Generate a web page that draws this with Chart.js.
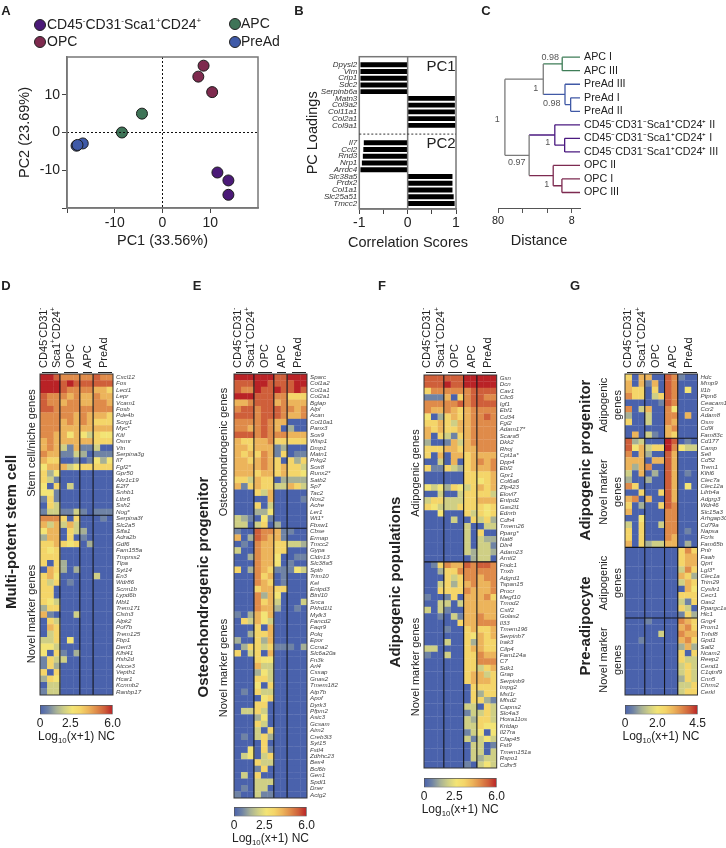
<!DOCTYPE html>
<html>
<head>
<meta charset="utf-8">
<title>Population PCA and heatmaps</title>
<script src="https://cdn.jsdelivr.net/npm/chart.js@4"></script>
<style>
  body { margin: 0; background: #fff; }
  #page { position: relative; width: 726px; height: 848px; overflow: hidden; font-family: "Liberation Sans", Arial, sans-serif; color: #222; filter: blur(0.35px); }
  #page canvas { position: absolute; }
  .txt { position: absolute; white-space: nowrap; line-height: 1; }
  .txt sup { font-size: 58%; line-height: 0; }
  .txt sub { font-size: 65%; line-height: 0; }
  .dot { position: absolute; width: 10px; height: 10px; border-radius: 50%; border: 1px solid #222; }
  .rule { position: absolute; height: 1px; background: #222; }
</style>
</head>
<body>
<div id="page"></div>
<script>
// Panel A - PCA
const pcaPurple = [[11.5, -10.6], [13.8, -12.7], [13.8, -16.5]];
const pcaOpc = [[8.6, 17.7], [7.5, 14.8], [10.4, 10.7]];
const pcaApc = [[-4.3, 5.0], [-8.5, 0]];
const pcaPreAd = [[-18, -3.5], [-16.7, -2.9], [-17.8, -3.3]];

// Panel B - loadings
const pc1Genes = ['Dpysl2', 'Vim', 'Crip1', 'Sdc2', 'Serpinb6a', 'Matn3', 'Col9a2', 'Col11a1', 'Col2a1', 'Col9a1'];
const pc1Scores = [-0.97, -0.97, -0.97, -0.97, -0.97, 0.97, 0.97, 0.97, 0.98, 0.985];
const pc2Genes = ['Il7', 'Ccl2', 'Rnd3', 'Nrp1', 'Arrdc4', 'Slc38a5', 'Prdx2', 'Col1a1', 'Slc25a51', 'Tmcc2'];
const pc2Scores = [-0.90, -0.91, -0.92, -0.94, -0.97, 0.92, 0.92, 0.92, 0.945, 0.965];

// Panel C - dendrogram, node = [distance, colour, children], a number is a leaf index
const leafNames = ['APC I', 'APC III', 'PreAd III', 'PreAd I', 'PreAd II',
  'CD45⁻CD31⁻Sca1⁺CD24⁺ II', 'CD45⁻CD31⁻Sca1⁺CD24⁺ I', 'CD45⁻CD31⁻Sca1⁺CD24⁺ III',
  'OPC II', 'OPC I', 'OPC III'];
const leafDistance = 6.2;
const distanceTicks = [80, 37.1, 17.2, 8];
const GREY = '#7a7a7a', GREEN = '#3e7d57', BLUE = '#4059a6', PURPLE = '#4b1a80', WINE = '#7d2a50';
const dendroTree = [64.5, GREY, [
  [19.5, GREY, [[10.8, GREEN, [0, 1]], [9.9, BLUE, [2, [8.3, BLUE, [3, 4]]]]]],
  [30.3, GREY, [[13.6, PURPLE, [5, [10, PURPLE, [6, 7]]]], [14.3, WINE, [8, [10.9, WINE, [9, 10]]]]]]
]];

// Heatmaps: one digit per sample, 0-9 along the colour bar (3 CD45, 3 OPC, 2 APC, 3 PreAd)
const colSplits = [3, 6, 8];
const genesD = ['Cxcl12', 'Fos', 'Lect1', 'Lepr', 'Vcam1', 'Fosb', 'Pde4b', 'Scrg1', 'Myc*', 'Kitl', 'Osmr', 'Vtn', 'Serpina3g', 'Il7', 'Fgf2*', 'Gpr50', 'Akr1c19', 'E2f7', 'Snhb1', 'Ltbr6', 'Ssh2', 'Nog*',
  'Serpina3f', 'Slc2a5', 'Stfa1', 'Adra2b', 'Gdf6', 'Fam155a', 'Tmprss2', 'Tlpa', 'Syt14', 'En3', 'Wdr86', 'Scnn1b', 'Lypd6b', 'Mbl1', 'Trem171', 'Clstn3', 'Alpk2', 'Pof7b', 'Trem125', 'Fbp1', 'Dert3', 'Klhl41', 'Hsh2d', 'Atcce3', 'Vepth1', 'Hcar1', 'Kcnmb2', 'Ranbp17'];
const levelsD = ['99877777877', '99989888888', '99987777665', '87776766766', '87767766776', '88777777777', '77777676665', '77767676555', '77766666666', '77664643544', '67666666555', '67631611300', '76611320111', '65500101424', '46663455555', '52400000000', '53100000000', '40503000000', '44100000000', '15100000000', '05300000000', '13311310111',
  '77750500010', '63636300000', '46605320000', '26605010000', '55654502000', '54500000000', '55500000000', '50520000000', '06520200000', '56400000300', '53501000000', '55000000000', '55000000000', '54300000000', '25500000000', '61000300000', '05300000000', '06500000000', '03500000000', '33504000000', '44300000000', '40510200000', '15330000000', '15200000000', '50500000000', '25400000000', '03300000000', '13300000000'];
const genesE = ['Sparc', 'Col1a2', 'Col1a1', 'Col2a1', 'Bglap', 'Alpl', 'Acan', 'Col10a1', 'Panx3', 'Sox9', 'Wisp1', 'Dmp1', 'Matn1', 'Prkg2', 'Sox8', 'Runx2*', 'Satb2', 'Sp7', 'Tac2', 'Nos2', 'Ache', 'Ler1', 'Wt1*', 'Fbxw1',
  'Cbse', 'Ermap', 'Tmcc2', 'Gypa', 'Cldn13', 'Slc38a5', 'Sptb', 'Trim10', 'Kel', 'Entpd3', 'Btnl10', 'Snca', 'Pkhd1l1', 'Mylk3', 'Fancd2', 'Faqr9', 'Polq', 'Epor', 'Ccna2', 'Slc6a20a', 'Fn3k', 'Arl4', 'Cssap', 'Gnas2', 'Tmem182', 'Atp7b', 'Apof', 'Dyrk3', 'Pfpm2', 'Asic3', 'Gcsam', 'Aim2', 'Creb3l3', 'Syt15', 'Fstl4', 'Zdhhc23', 'Bex4', 'Bcl6b', 'Gen1', 'Spdl1', 'Dner', 'Actg2'];
const levelsE = ['99999988999', '88899888899', '87798898898', '99988877555', '66788867666', '78878887767', '88878887667', '77778766000', '77678760200', '88878777666', '65566755555', '66566612000', '65657615011', '66567650525', '66667656553', '66656656554', '55365502222', '61565533653', '00053600000', '00000600001', '00050300000', '00022400000', '32104100000', '33035020000',
  '10087761100', '60287661000', '01076655332', '30076655000', '00276640011', '00076640100', '50276511143', '00075601000', '00076501000', '00056655000', '00072640000', '00075630003', '00076620010', '10264600000', '05364300000', '00050600000', '00255600000', '20052600000', '02553511102', '50350600000', '00054400000', '00063300000', '00024300000', '00055300000', '00040500000', '01053300000', '00004500000', '00055000000', '03353000000', '00024000000', '00053000000', '00030500000', '01035200000', '00005000000', '00405100000', '03403500000', '00053300000', '00015000000', '03050000000', '00033300000', '01033000000', '10031100000'];
const genesF = ['Gsn', 'Dcn', 'Cav1', 'Clic6', 'Igf1', 'Ebf1', 'Cd34', 'Fgl2', 'Adam17*', 'Scara5', 'Dkk2', 'Rhoj', 'Cpt1a*', 'Dpp4', 'Ebf2', 'Gpr1', 'Col6a6', 'Zfp423', 'Elovl7', 'Entpd2', 'Gas2l1', 'Ednrb', 'Cdh4', 'Tmem26', 'Pparg*', 'Nat8', 'Dlx4', 'Adam23', 'Arntl2',
  'Fndc1', 'Tnxb', 'Adgrd1', 'Tspan15', 'Procr', 'Megf10', 'Tmod2', 'Cstf2', 'Golas2', 'Il33', 'Tmem196', 'Serpinb7', 'Irak3', 'Cilp4', 'Fam124a', 'C7', 'Sdk1', 'Grap', 'Serpinb9', 'Impg2', 'Mst1r', 'Mfsd2', 'Capns2', 'Slc4a3', 'Hoxa11os', 'Krtdap', 'Il27ra', 'Cfap45', 'Fst9', 'Tmem151a', 'Rspo1', 'Cdhr5'];
const levelsF = ['88888899999', '88898899999', '57777778888', '11160578877', '77777878888', '76676567777', '40256567787', '55653667777', '65655667777', '60531567777', '20016367777', '55566566777', '50606656666', '00306056767', '51153256667', '00000055556', '00000055456', '43425435656', '00300355553', '35533355666', '54333555545', '00400053545', '00003005352', '00000030033', '00000030500', '00000030322', '00000030331', '00000032332', '00000002330',
  '01576687887', '00255777777', '00053577677', '00352567667', '00555576667', '10015066675', '00330366666', '30310066666', '00103166766', '00000566777', '00010056556', '00000054656', '00030052655', '33000056655', '10030055766', '00000055777', '00000055356', '00000056635', '00000056665', '00000005555', '00000005255', '00000005521', '00000033053', '00000013353', '00000032553', '00000033544', '00000013404', '00000031343', '00000003301', '00000003303', '00000003233', '00000010343'];
const genesG = ['Hdc', 'Mmp9', 'Il1b', 'Ptpn6', 'Ceacam1', 'Ccr2', 'Adam8', 'Osm', 'Cd9l', 'Fam83c',
  'Cd177', 'Camp', 'Sell', 'Cd52', 'Trem1', 'Klhl6', 'Clec7a', 'Clec12a', 'Lilrb4a', 'Adgrg3', 'Wdr46', 'Slc15a3', 'Arhgap30', 'Cd79a', 'Napsa', 'Fcrls', 'Fam65b',
  'Pnlr', 'Faah', 'Qprt', 'Lgl3*', 'Clec1a', 'Trim29', 'Cysltr1', 'Cecr1', 'Oas2', 'Ppargc1a*', 'Hlc1',
  'Gng4', 'Prom1', 'Tnfsf8', 'Gpd1', 'Sall2', 'Ncam2', 'Reep2', 'Cend1', 'C1qtnf9', 'Cnn5', 'Chrm2', 'Cerkl'];
const levelsG = ['50660087100', '60616087000', '65505087040', '75503587000', '00000187000', '70360074000', '20030077060', '50030076000', '00000067000', '06031065000',
  '82300098010', '84635597433', '70620086000', '66606686000', '62670086000', '30602086010', '20020086000', '75000086040', '00500586000', '67060086000', '50200587000', '60000077000', '00400077000', '30500377000', '50500077010', '50500076000', '60523366020',
  '00000000575', '00000000566', '00000000566', '00000000375', '00000000652', '00000000365', '00000000064', '00000000555', '00000000315', '00000000530', '00000000152',
  '00010000765', '00000000675', '00000300766', '00100000675', '00000000262', '00000000505', '00000000533', '00000000353', '00000000353', '00000000253', '00000000335', '00000000355'];

const heatStops = ['#4a62ac', '#6f83a5', '#a6b096', '#cfcf85', '#f3e475', '#f4d569', '#ecb45b', '#df8b4a', '#cf5f3a', '#b92226'];
const FONT = '"Liberation Sans", Arial, sans-serif';

Chart.defaults.font.family = FONT;
Chart.defaults.color = '#222';
Chart.defaults.animation = false;
Chart.defaults.plugins.legend.display = false;
Chart.defaults.plugins.tooltip.enabled = false;

const page = document.getElementById('page');

function addCanvas(left, top, width, height) {
  const c = document.createElement('canvas');
  c.width = width;
  c.height = height;
  c.style.left = left + 'px';
  c.style.top = top + 'px';
  c.style.width = width + 'px';
  c.style.height = height + 'px';
  page.appendChild(c);
  return c;
}

function text(html, x, y, size, extra) {
  const d = document.createElement('div');
  d.className = 'txt';
  d.innerHTML = html;
  d.style.left = x + 'px';
  d.style.top = y + 'px';
  d.style.fontSize = size + 'px';
  d.style.transform = 'translate(-50%,-50%)';
  Object.assign(d.style, extra || {});
  page.appendChild(d);
  return d;
}

// rotated text centred on x,y
function vtext(html, x, y, size, extra) {
  const d = text(html, x, y, size, extra);
  d.style.transform = 'translate(-50%,-50%) rotate(-90deg)';
  d.style.textAlign = 'center';
  return d;
}

// rotated text that starts at y and runs upwards
function headText(html, x, y) {
  const d = text(html, x, y, 11);
  d.style.transformOrigin = '0 0';
  d.style.transform = 'rotate(-90deg) translate(0,-50%)';
}

// ---- Panel A ----
const pcaFrame = {
  id: 'pcaFrame',
  afterDraw(chart) {
    const { ctx, chartArea: a, scales } = chart;
    ctx.save();
    ctx.strokeStyle = '#111';
    ctx.lineWidth = 1;
    ctx.setLineDash([2, 2]);
    ctx.beginPath();
    ctx.moveTo(scales.x.getPixelForValue(0), a.top);
    ctx.lineTo(scales.x.getPixelForValue(0), a.bottom);
    ctx.moveTo(a.left, scales.y.getPixelForValue(0));
    ctx.lineTo(a.right, scales.y.getPixelForValue(0));
    ctx.stroke();
    ctx.setLineDash([]);
    ctx.strokeStyle = '#777';
    ctx.lineWidth = 1.5;
    ctx.strokeRect(a.left, a.top, a.width, a.height);
    ctx.restore();
  }
};

function pcaSet(points, colour) {
  return {
    data: points.map(p => ({ x: p[0], y: p[1] })),
    backgroundColor: colour,
    borderColor: '#1a1a1a',
    borderWidth: 1,
    pointRadius: 5.5
  };
}

function pcaTicks(scale) {
  scale.ticks = [-20, -10, 0, 10].map(v => ({ value: v }));
}

new Chart(addCanvas(16, 45, 252, 205), {
  type: 'scatter',
  data: {
    datasets: [pcaSet(pcaPreAd, '#3f5aa8'), pcaSet(pcaApc, '#3e7457'), pcaSet(pcaOpc, '#7e2a4e'), pcaSet(pcaPurple, '#4b1a78')]
  },
  options: {
    responsive: false,
    layout: { padding: { top: 12, right: 10 } },
    scales: {
      x: {
        min: -20, max: 20,
        afterBuildTicks: pcaTicks,
        afterFit: s => { s.height = 42; },
        grid: { drawOnChartArea: false, tickLength: 5, color: '#444' },
        border: { color: '#777', width: 1.5 },
        ticks: { font: { size: 14 }, padding: 2, maxRotation: 0, callback: v => (v === -20 ? '' : v) },
        title: { display: true, text: 'PC1 (33.56%)', font: { size: 14.5 }, padding: 0 }
      },
      y: {
        min: -20, max: 20,
        afterBuildTicks: pcaTicks,
        afterFit: s => { s.width = 51; },
        grid: { drawOnChartArea: false, tickLength: 5, color: '#444' },
        border: { color: '#777', width: 1.5 },
        ticks: { font: { size: 14 }, padding: 2, callback: v => (v === -20 ? '' : v) },
        title: { display: true, text: 'PC2 (23.69%)', font: { size: 14.5 }, padding: 0 }
      }
    }
  },
  plugins: [pcaFrame]
});

[[39, 24, '#4b1a78'], [39, 41, '#7e2a4e'], [234, 23, '#3e7457'], [234, 41, '#3f5aa8']].forEach(k => {
  const d = document.createElement('div');
  d.className = 'dot';
  d.style.left = (k[0] - 5) + 'px';
  d.style.top = (k[1] - 5) + 'px';
  d.style.background = k[2];
  page.appendChild(d);
});
text('CD45<sup>-</sup>CD31<sup>-</sup>Sca1<sup>+</sup>CD24<sup>+</sup>', 47, 24, 14, { transform: 'translateY(-50%)' });
text('OPC', 47, 41, 14, { transform: 'translateY(-50%)' });
text('APC', 241, 23, 14, { transform: 'translateY(-50%)' });
text('PreAd', 241, 41, 14, { transform: 'translateY(-50%)' });

// ---- Panel B ----
const pcGap = 1.58;
const loadingGenes = pc1Genes.concat(pc2Genes);
const loadingScores = pc1Scores.concat(pc2Scores);
const rowOf = i => i + (i >= pc1Genes.length ? pcGap : 0);

const loadingFrame = {
  id: 'loadingFrame',
  afterDraw(chart) {
    const { ctx, chartArea: a, scales } = chart;
    ctx.save();
    ctx.strokeStyle = '#777';
    ctx.lineWidth = 1.5;
    ctx.strokeRect(a.left, a.top, a.width, a.height);
    ctx.beginPath();
    ctx.moveTo(scales.x.getPixelForValue(0), a.top);
    ctx.lineTo(scales.x.getPixelForValue(0), a.bottom);
    ctx.stroke();
    ctx.strokeStyle = '#333';
    ctx.lineWidth = 1;
    ctx.setLineDash([2, 2]);
    const y = scales.y.getPixelForValue(pc1Genes.length - 1 + (pcGap + 1) / 2);
    ctx.beginPath();
    ctx.moveTo(a.left, y);
    ctx.lineTo(a.right, y);
    ctx.stroke();
    ctx.restore();
  }
};

new Chart(addCanvas(304, 45, 162, 205), {
  type: 'bar',
  data: {
    datasets: [{
      data: loadingScores.map((v, i) => ({ x: v, y: rowOf(i) })),
      backgroundColor: '#000',
      barThickness: 4.2
    }]
  },
  options: {
    responsive: false,
    indexAxis: 'y',
    layout: { padding: { top: 11.7, right: 10 } },
    scales: {
      x: {
        type: 'linear', min: -1, max: 1,
        afterBuildTicks: s => { s.ticks = [-1, -0.5, 0, 0.5, 1].map(v => ({ value: v })); },
        afterFit: s => { s.height = 41; },
        grid: { drawOnChartArea: false, tickLength: 5, color: '#444' },
        border: { color: '#777', width: 1.5 },
        ticks: { font: { size: 14 }, padding: 1, maxRotation: 0, callback: v => (Number.isInteger(v) ? v : '') }
      },
      y: {
        type: 'linear', reverse: true, min: -1.19, max: 21.4, offset: false,
        afterBuildTicks: s => { s.ticks = loadingGenes.map((g, i) => ({ value: rowOf(i) })); },
        afterFit: s => { s.width = 55.3; },
        grid: { display: false, drawTicks: false },
        border: { display: false },
        ticks: {
          autoSkip: false, padding: 2, color: '#333',
          font: { size: 8, style: 'italic' },
          callback: v => loadingGenes[loadingGenes.findIndex((g, i) => Math.abs(rowOf(i) - v) < 0.01)]
        },
        title: { display: true, text: 'PC Loadings', font: { size: 14.5 }, padding: 0 }
      }
    }
  },
  plugins: [loadingFrame]
});
text('PC1', 441, 65, 15);
text('PC2', 441, 142, 15);
text('Correlation Scores', 408, 242, 14.5);

// ---- Panel C ----
const dendroSets = [];
function segment(x0, y0, x1, y1, colour) {
  dendroSets.push({
    data: [{ x: x0, y: y0 }, { x: x1, y: y1 }],
    showLine: true, pointRadius: 0, borderWidth: 1.3, borderColor: colour
  });
}
function walkTree(node) {
  if (typeof node === 'number') return { d: leafDistance, y: node, colour: null };
  const kids = node[2].map(walkTree);
  const first = kids[0].y, last = kids[kids.length - 1].y;
  segment(node[0], first, node[0], last, node[1]);
  kids.forEach(k => segment(node[0], k.y, k.d, k.y, k.colour || node[1]));
  return { d: node[0], y: (first + last) / 2, colour: node[1] };
}
walkTree(dendroTree);

new Chart(addCanvas(490, 40, 236, 210), {
  type: 'scatter',
  data: { datasets: dendroSets },
  options: {
    responsive: false,
    layout: { padding: { top: 9.9, left: 6.7 } },
    scales: {
      x: {
        type: 'logarithmic', reverse: true, min: leafDistance, max: 80,
        afterBuildTicks: s => { s.ticks = distanceTicks.map(v => ({ value: v })); },
        afterFit: s => { s.height = 41; },
        grid: { drawOnChartArea: false, tickLength: 4, color: '#555' },
        border: { color: '#555', width: 1 },
        ticks: { font: { size: 10.8 }, padding: 2, maxRotation: 0, callback: v => (v === 80 || v === 8 ? v : '') },
        title: { display: true, text: 'Distance', font: { size: 14.5 }, padding: 0 }
      },
      y: {
        type: 'linear', reverse: true, position: 'right', min: -0.5, max: 11.22,
        afterBuildTicks: s => { s.ticks = leafNames.map((n, i) => ({ value: i })); },
        afterFit: s => { s.width = 146; },
        grid: { display: false, drawTicks: false },
        border: { display: false },
        ticks: { autoSkip: false, padding: 4, font: { size: 10.7 }, callback: v => leafNames[v] }
      }
    }
  }
});
[['0.98', 550.3, 56.7], ['1', 535.7, 87.7], ['0.98', 551.7, 102.7], ['1', 497.3, 119], ['0.97', 516.7, 162.3], ['1', 547.7, 142.3], ['1', 546.7, 184]].forEach(s => {
  text(s[0], s[1], s[2], 9, { color: '#555' });
});

// ---- Heatmaps ----
function heatmap(genes, levels, rowSplits, left, top, bottom) {
  const width = 73, labelWidth = 726 - left - width, margin = 8;
  const cols = levels[0].length;
  const datasets = [];
  for (let c = 0; c < cols; c++) {
    datasets.push({
      // slightly overlapping floating bars so no white seams show between cells
      data: levels.map(() => [c, c + 1.06]),
      backgroundColor: levels.map(row => heatStops[Number(row[c])]),
      grouped: false,
      barPercentage: 1.05,
      categoryPercentage: 1
    });
  }
  const lines = {
    id: 'heatLines',
    afterDatasetsDraw(chart) {
      const { ctx, chartArea: a, scales } = chart;
      ctx.save();
      ctx.strokeStyle = '#14161f';
      ctx.lineWidth = 1.1;
      ctx.beginPath();
      colSplits.forEach(c => {
        const x = scales.x.getPixelForValue(c);
        ctx.moveTo(x, a.top);
        ctx.lineTo(x, a.bottom);
      });
      rowSplits.forEach(r => {
        const y = a.top + r * a.height / genes.length;
        ctx.moveTo(a.left, y);
        ctx.lineTo(a.right, y);
      });
      ctx.stroke();
      ctx.strokeStyle = '#333';
      ctx.lineWidth = 1;
      ctx.strokeRect(a.left, a.top, a.width, a.height);
      ctx.restore();
    }
  };
  new Chart(addCanvas(left - 2, top - margin, width + labelWidth + 2, bottom - top + 2 * margin), {
    type: 'bar',
    data: { labels: genes, datasets: datasets },
    options: {
      responsive: false,
      indexAxis: 'y',
      layout: { padding: { left: 2, top: margin, bottom: margin } },
      scales: {
        x: { type: 'linear', min: 0, max: cols, display: false },
        y: {
          position: 'right',
          afterFit: s => { s.width = labelWidth; },
          grid: { display: false, drawTicks: false },
          border: { display: false },
          ticks: { autoSkip: false, padding: 3, color: '#444', maxRotation: 0, font: { size: 6.2, style: 'italic' } }
        }
      }
    },
    plugins: [lines]
  });
  // sample headers above the map
  const head = 368;
  headText('CD45<sup>-</sup>CD31<sup>-</sup>', left + 2.5, head);
  headText('Sca1<sup>+</sup>CD24<sup>+</sup>', left + 16, head);
  headText('OPC', left + 30, head);
  headText('APC', left + 47, head);
  headText('PreAd', left + 63, head);
  [[2, 18], [24, 38], [43, 52], [58, 72]].forEach(r => {
    const d = document.createElement('div');
    d.className = 'rule';
    d.style.left = (left + r[0]) + 'px';
    d.style.width = (r[1] - r[0]) + 'px';
    d.style.top = (head + 3.5) + 'px';
    page.appendChild(d);
  });
}

function colorbar(left, top, max, ticks) {
  const width = 73, height = 9.5, pad = 10;
  new Chart(addCanvas(left - pad, top - 1, width + 2 * pad, 30), {
    type: 'bar',
    data: {
      labels: [''],
      datasets: [{
        data: [[0, max]],
        barPercentage: 1,
        categoryPercentage: 1,
        borderColor: '#555',
        borderWidth: 1,
        borderSkipped: false,
        backgroundColor(ctx) {
          const a = ctx.chart.chartArea;
          if (!a) return heatStops[0];
          const g = ctx.chart.ctx.createLinearGradient(a.left, 0, a.right, 0);
          heatStops.forEach((c, i) => g.addColorStop(i / (heatStops.length - 1), c));
          return g;
        }
      }]
    },
    options: {
      responsive: false,
      indexAxis: 'y',
      layout: { padding: { left: pad, right: pad, top: 1 } },
      scales: {
        x: {
          type: 'linear', min: 0, max: max,
          afterBuildTicks: s => { s.ticks = ticks.map(v => ({ value: v })); },
          afterFit: s => { s.height = 30 - 1 - height; },
          grid: { display: false, drawTicks: false },
          border: { display: false },
          ticks: { font: { size: 12 }, padding: 2, maxRotation: 0, callback: v => (v === 0 ? '0' : v.toFixed(1)) }
        },
        y: { display: false }
      }
    }
  });
  text('Log<sub>10</sub>(x+1) NC', left + width / 2, top + 31, 12);
}

heatmap(genesD, levelsD, [22], 40, 374, 695.3);
heatmap(genesE, levelsE, [24], 234, 374, 798);
heatmap(genesF, levelsF, [29], 423.7, 374.5, 768.3);
heatmap(genesG, levelsG, [10, 27, 38], 624.5, 374, 695.3);

colorbar(40, 705, 6, [0, 2.5, 6]);
colorbar(234, 807, 6, [0, 2.5, 6]);
colorbar(423.7, 778, 6, [0, 2.5, 6]);
colorbar(624.5, 705, 4.5, [0, 2, 4.5]);

// ---- Side labels ----
const BOLD = { fontWeight: 'bold' };
vtext('Multi-potent stem cell', 10, 532, 15, BOLD);
vtext('Stem cell/niche genes', 31, 443, 11);
vtext('Novel marker genes', 31, 614, 11);
vtext('Osteochondrogenic progenitor', 202, 587, 15, BOLD);
vtext('Osteochondrogenic genes', 223, 452, 11);
vtext('Novel marker genes', 223, 668, 11);
vtext('Adipogenic populations', 394, 582, 15, BOLD);
vtext('Adipogenic genes', 415, 473, 11);
vtext('Novel marker genes', 415, 667, 11);
vtext('Adipogenic progenitor', 584, 460, 15, BOLD);
vtext('Pre-adipocyte', 584, 626, 15, BOLD);
vtext('Adipogenic<br>genes', 610, 405, 11, { lineHeight: '14px' });
vtext('Novel marker<br>genes', 610, 492, 11, { lineHeight: '14px' });
vtext('Adipogenic<br>genes', 610, 583, 11, { lineHeight: '14px' });
vtext('Novel marker<br>genes', 610, 660, 11, { lineHeight: '14px' });

[['A', 6, 10], ['B', 299, 10], ['C', 486, 10], ['D', 6, 285], ['E', 197, 285], ['F', 382, 285], ['G', 575, 285]].forEach(p => {
  text(p[0], p[1], p[2], 13, BOLD);
});
</script>
</body>
</html>
